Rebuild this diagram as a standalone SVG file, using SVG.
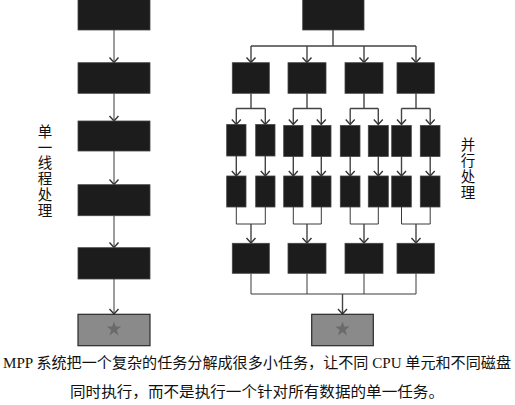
<svg xmlns="http://www.w3.org/2000/svg" width="515" height="405" viewBox="0 0 515 405">
<style>
.b{fill:#1c1c1c;stroke:#444;stroke-width:0.8}
.s{fill:#8a8a8a;stroke:#2a2a2a;stroke-width:1.2}
.star{fill:#6a6a6a}
.l{fill:none;stroke:#3a3a3a;stroke-width:1}
.p{fill:none;stroke:#444;stroke-width:1.4}
.t{font-family:"Liberation Serif","Noto Sans CJK SC",serif;fill:#111}
</style>
<defs>
<marker id="v" markerWidth="12" markerHeight="12" refX="6" refY="6" orient="0" markerUnits="userSpaceOnUse" viewBox="0 0 12 12">
<path d="M1.5,1 L6,6 L10.5,1" fill="none" stroke="#333" stroke-width="1.4"/>
</marker>
<symbol id="st" viewBox="-10 -10 20 20">
<polygon points="0,-9.5 2.2,-3 9,-3 3.5,1.2 5.6,8 0,3.8 -5.6,8 -3.5,1.2 -9,-3 -2.2,-3"/>
</symbol>
</defs>

<g id="connectors">
<path class="l" marker-end="url(#v)" d="M114,30 V62.5"/>
<path class="l" marker-end="url(#v)" d="M114,93.3 V121"/>
<path class="l" marker-end="url(#v)" d="M114,151 V184.5"/>
<path class="l" marker-end="url(#v)" d="M114,215.7 V247.5"/>
<path class="l" marker-end="url(#v)" d="M114,279 V314"/>
<path class="p" d="M333,30 V46 M251,46 H416"/>
<path class="p" marker-end="url(#v)" d="M251,46 V62.5"/>
<path class="p" marker-end="url(#v)" d="M307,46 V62.5"/>
<path class="p" marker-end="url(#v)" d="M364,46 V62.5"/>
<path class="p" marker-end="url(#v)" d="M416,46 V62.5"/>
<path class="p" d="M251,93.3 V108.5 M236.3,108.5 H265.3 M307,93.3 V108.5 M293.3,108.5 H321.3 M364,93.3 V108.5 M350.2,108.5 H378.3 M416,93.3 V108.5 M401.5,108.5 H430.2"/>
<path class="p" marker-end="url(#v)" d="M236.3,108.5 V124.5"/>
<path class="p" marker-end="url(#v)" d="M265.3,108.5 V124.5"/>
<path class="p" marker-end="url(#v)" d="M293.3,108.5 V124.5"/>
<path class="p" marker-end="url(#v)" d="M321.3,108.5 V124.5"/>
<path class="p" marker-end="url(#v)" d="M350.2,108.5 V124.5"/>
<path class="p" marker-end="url(#v)" d="M378.3,108.5 V124.5"/>
<path class="p" marker-end="url(#v)" d="M401.5,108.5 V124.5"/>
<path class="p" marker-end="url(#v)" d="M430.2,108.5 V124.5"/>
<path class="p" marker-end="url(#v)" d="M236.3,156 V176"/>
<path class="p" marker-end="url(#v)" d="M265.3,156 V176"/>
<path class="p" marker-end="url(#v)" d="M293.3,156 V176"/>
<path class="p" marker-end="url(#v)" d="M321.3,156 V176"/>
<path class="p" marker-end="url(#v)" d="M350.2,156 V176"/>
<path class="p" marker-end="url(#v)" d="M378.3,156 V176"/>
<path class="p" marker-end="url(#v)" d="M401.5,156 V176"/>
<path class="p" marker-end="url(#v)" d="M430.2,156 V176"/>
<path class="l" d="M236.3,207 V224 H265.3 V207 M293.3,207 V224 H321.3 V207 M350.2,207 V224 H378.3 V207 M401.5,207 V224 H430.2 V207"/>
<path class="p" marker-end="url(#v)" d="M251,224 V243"/>
<path class="p" marker-end="url(#v)" d="M307,224 V243"/>
<path class="p" marker-end="url(#v)" d="M364,224 V243"/>
<path class="p" marker-end="url(#v)" d="M416,224 V243"/>
<path class="l" d="M251,273.3 V294 H416 V273.3 M307,273.3 V294 M364,273.3 V294"/>
<path class="p" stroke-width="1.8" marker-end="url(#v)" d="M342.5,294 V314"/>
</g>

<g id="L1"><rect class="b" x="78" y="-1" width="72" height="31"/></g>
<g id="L2"><rect class="b" x="78" y="62.7" width="72" height="30.6"/></g>
<g id="L3"><rect class="b" x="78" y="121" width="72" height="30"/></g>
<g id="L4"><rect class="b" x="78" y="184.7" width="72" height="31"/></g>
<g id="L5"><rect class="b" x="78" y="247.7" width="72" height="31.3"/></g>
<g id="LS"><rect class="s" x="78" y="314.3" width="72" height="31.4"/><use href="#st" class="star" x="106" y="321" width="16" height="16"/></g>

<g id="R0"><rect class="b" x="302.7" y="-1" width="61.3" height="31"/></g>
<g id="R1a"><rect class="b" x="232.3" y="62.7" width="37" height="30.6"/></g>
<g id="R1b"><rect class="b" x="288" y="62.7" width="38" height="30.6"/></g>
<g id="R1c"><rect class="b" x="345" y="62.7" width="38" height="30.6"/></g>
<g id="R1d"><rect class="b" x="397" y="62.7" width="37.3" height="30.6"/></g>

<g id="R2a"><rect class="b" x="226.7" y="124.5" width="19.3" height="31.5"/></g>
<g id="R2b"><rect class="b" x="255.7" y="124.5" width="19.3" height="31.5"/></g>
<g id="R2c"><rect class="b" x="283.7" y="125.5" width="19.3" height="31"/></g>
<g id="R2d"><rect class="b" x="311.7" y="125.5" width="19.3" height="31"/></g>
<g id="R2e"><rect class="b" x="340.3" y="125.5" width="19.7" height="31"/></g>
<g id="R2f"><rect class="b" x="368.3" y="125.5" width="20" height="31"/></g>
<g id="R2g"><rect class="b" x="391.7" y="125.5" width="19.6" height="31"/></g>
<g id="R2h"><rect class="b" x="420.3" y="125.5" width="19.7" height="31"/></g>

<g id="R3a"><rect class="b" x="226.7" y="176" width="19.3" height="31"/></g>
<g id="R3b"><rect class="b" x="255.7" y="176" width="19.3" height="31"/></g>
<g id="R3c"><rect class="b" x="283.7" y="176" width="19.3" height="31"/></g>
<g id="R3d"><rect class="b" x="311.7" y="176" width="19.3" height="31"/></g>
<g id="R3e"><rect class="b" x="340.3" y="176" width="19.7" height="31"/></g>
<g id="R3f"><rect class="b" x="368.3" y="176" width="20" height="31"/></g>
<g id="R3g"><rect class="b" x="391.7" y="176" width="19.6" height="31"/></g>
<g id="R3h"><rect class="b" x="420.3" y="176" width="19.7" height="31"/></g>

<g id="R4a"><rect class="b" x="232.3" y="243.3" width="37" height="30"/></g>
<g id="R4b"><rect class="b" x="288" y="243.3" width="38" height="30"/></g>
<g id="R4c"><rect class="b" x="345" y="243.3" width="38" height="30"/></g>
<g id="R4d"><rect class="b" x="397" y="243.3" width="37.3" height="30"/></g>
<g id="RS"><rect class="s" x="311.7" y="314.3" width="61.6" height="31.4"/><use href="#st" class="star" x="334.5" y="321" width="16" height="16"/></g>

<g id="label-single" class="t" font-size="14.5" text-anchor="middle">
<text x="45" y="137">单</text>
<text x="45" y="152.7">一</text>
<text x="45" y="168.4">线</text>
<text x="45" y="184.1">程</text>
<text x="45" y="199.8">处</text>
<text x="45" y="215.5">理</text>
</g>
<g id="label-parallel" class="t" font-size="14.5" text-anchor="middle">
<text x="468" y="150">并</text>
<text x="468" y="166">行</text>
<text x="468" y="182">处</text>
<text x="468" y="198">理</text>
</g>
<g id="caption" class="t" font-size="15.2">
<text x="3" y="368" textLength="508" lengthAdjust="spacingAndGlyphs">MPP 系统把一个复杂的任务分解成很多小任务，让不同 CPU 单元和不同磁盘</text>
<text x="70" y="397" textLength="374" lengthAdjust="spacingAndGlyphs">同时执行，而不是执行一个针对所有数据的单一任务。</text>
</g>
</svg>
